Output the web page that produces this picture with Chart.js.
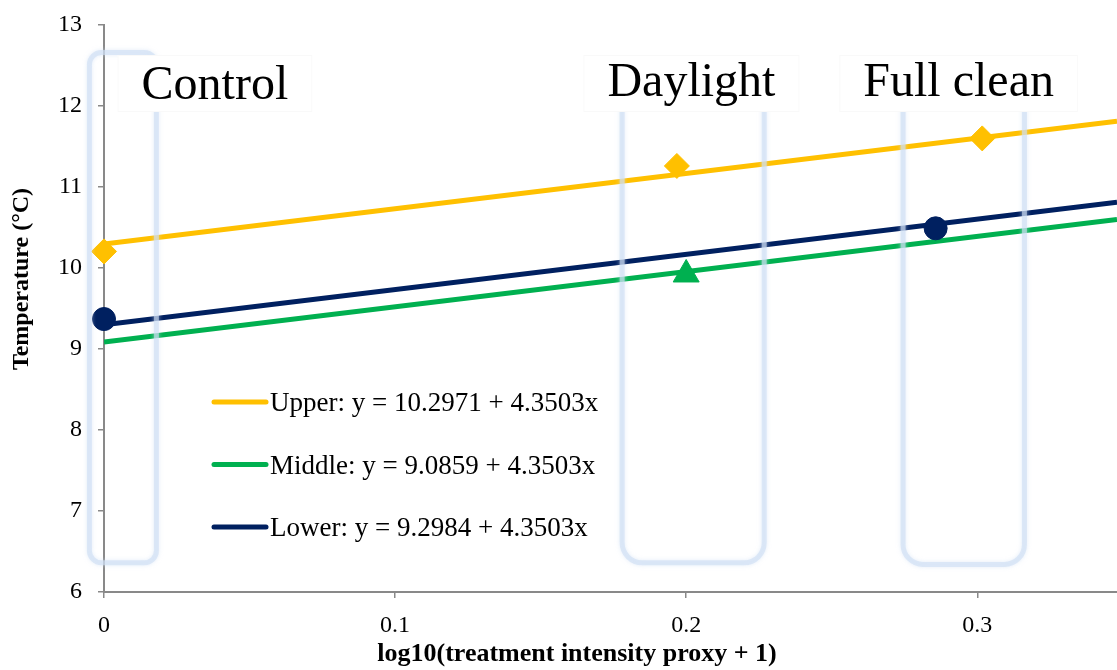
<!DOCTYPE html>
<html>
<head>
<meta charset="utf-8">
<script src="https://cdn.jsdelivr.net/npm/chart.js@4/dist/chart.umd.min.js"></script>
<style>
  html, body { margin: 0; padding: 0; background: #fff; overflow: hidden; }
  #wrap { width: 1117px; height: 670px; }
</style>
</head>
<body>
<div id="wrap"><canvas id="chart" width="1117" height="670"></canvas></div>
<script>
// fitted lines (shared slope)
const seriesNames = ['Upper', 'Middle', 'Lower'];
const intercepts = [10.2971, 9.0859, 9.2984];
const slope = 4.3503;

// observed points per series
const upperX = [0, 0.1968, 0.3017];
const upperY = [10.205, 11.26, 11.60];
const middleX = [0.2];
const middleY = [9.92];
const lowerX = [0, 0.2857];
const lowerY = [9.37, 10.49];

// treatment groups
const treatments = ['Control', 'Daylight', 'Full clean'];
const treatmentX = [0.0381, 0.2018, 0.2936];

const xTicks = [0, 0.1, 0.2, 0.3];
const xMax = 0.348;
const yMin = 6;
const yMax = 13;

// bracket outlines around each group: [left, right, bottom, top] in axis units
const bracketSpans = [
  [-0.005, 0.018, 6.36, 12.66],
  [0.178, 0.2268, 6.36, 12.3],
  [0.2745, 0.3162, 6.34, 12.3]
];
const bracketRadius = [12, 20, 20];

const colors = ['#FFC000', '#00B050', '#002060'];
const serif = '"Liberation Serif", "Times New Roman", serif';

const pts = (xs, ys) => xs.map((v, i) => ({ x: v, y: ys[i] }));
const fitLine = (b) => [{ x: 0, y: b }, { x: xMax, y: b + slope * xMax }];

const datasets = [
  { label: 'Upper points', data: pts(upperX, upperY), showLine: false, order: 0, clip: false,
    pointStyle: 'rectRot', pointRadius: 12.5, backgroundColor: colors[0], borderColor: colors[0], borderWidth: 1 },
  { label: 'Middle points', data: pts(middleX, middleY), showLine: false, order: 0, clip: false,
    pointStyle: 'triangle', pointRadius: 15, backgroundColor: colors[1], borderColor: colors[1], borderWidth: 1 },
  { label: 'Lower points', data: pts(lowerX, lowerY), showLine: false, order: 0, clip: false,
    pointStyle: 'circle', pointRadius: 11.5, backgroundColor: colors[2], borderColor: colors[2], borderWidth: 1 }
];
seriesNames.forEach((name, i) => {
  datasets.push({
    label: name + ': y = ' + intercepts[i].toFixed(4) + ' + ' + slope.toFixed(4) + 'x',
    data: fitLine(intercepts[i]), showLine: true, order: 1, isFit: true,
    borderColor: colors[i], borderWidth: 5, pointRadius: 0, fill: false
  });
});

function roundedBox(ctx, l, t, r, b, rad) {
  ctx.beginPath();
  ctx.moveTo(l + rad, t);
  ctx.lineTo(r - rad, t);
  ctx.arcTo(r, t, r, t + rad, rad);
  ctx.lineTo(r, b - rad);
  ctx.arcTo(r, b, r - rad, b, rad);
  ctx.lineTo(l + rad, b);
  ctx.arcTo(l, b, l, b - rad, rad);
  ctx.lineTo(l, t + rad);
  ctx.arcTo(l, t, l + rad, t, rad);
  ctx.closePath();
}

const overlay = {
  id: 'overlay',
  afterDatasetsDraw(chart) {
    const { ctx, scales: { x, y } } = chart;
    ctx.save();

    // pale bracket outlines over the lines
    ctx.strokeStyle = 'rgba(206, 223, 244, 0.62)';
    ctx.lineWidth = 5;
    ctx.shadowColor = 'rgba(206, 223, 244, 0.9)';
    ctx.shadowBlur = 4;
    bracketSpans.forEach((s, i) => {
      roundedBox(ctx, x.getPixelForValue(s[0]), y.getPixelForValue(s[3]),
        x.getPixelForValue(s[1]), y.getPixelForValue(s[2]), bracketRadius[i]);
      ctx.stroke();
    });
    ctx.shadowBlur = 0;
    ctx.shadowColor = 'transparent';

    // group labels on white boxes
    ctx.font = '48px ' + serif;
    ctx.textAlign = 'center';
    ctx.textBaseline = 'alphabetic';
    treatments.forEach((t, i) => {
      const cx = x.getPixelForValue(treatmentX[i]);
      const w = ctx.measureText(t).width + 48;
      ctx.fillStyle = '#fff';
      ctx.fillRect(cx - w / 2, 55, w, 57);
      ctx.strokeStyle = 'rgba(0,0,0,0.025)';
      ctx.lineWidth = 1;
      ctx.strokeRect(cx - w / 2 + 0.5, 55.5, w - 1, 56);
      ctx.fillStyle = '#000';
      ctx.fillText(t, cx, i === 0 ? 99 : 96);
    });

    // legend for the fitted lines
    const fits = chart.data.datasets.filter(d => d.isFit);
    const left = chart.chartArea.left;
    ctx.font = '27px ' + serif;
    ctx.textAlign = 'left';
    ctx.lineCap = 'round';
    fits.forEach((d, i) => {
      const ly = 402 + i * 62.5;
      ctx.strokeStyle = d.borderColor;
      ctx.lineWidth = 5;
      ctx.beginPath();
      ctx.moveTo(left + 110, ly);
      ctx.lineTo(left + 162, ly);
      ctx.stroke();
      ctx.fillStyle = '#000';
      ctx.fillText(d.label, left + 166, ly + 9);
    });
    ctx.restore();
  },
  afterDraw(chart) {
    const { ctx } = chart;
    ctx.save();
    ctx.fillStyle = '#000';
    ctx.textAlign = 'center';
    ctx.textBaseline = 'alphabetic';
    ctx.font = 'bold 26px ' + serif;
    ctx.fillText('log10(treatment intensity proxy + 1)', 577, 661);
    ctx.font = 'bold 24px ' + serif;
    ctx.translate(28, 279);
    ctx.rotate(-Math.PI / 2);
    ctx.fillText('Temperature (°C)', 0, 0);
    ctx.restore();
  }
};

new Chart(document.getElementById('chart').getContext('2d'), {
  type: 'scatter',
  data: { datasets },
  plugins: [overlay],
  options: {
    responsive: false,
    animation: false,
    devicePixelRatio: 1,
    layout: { autoPadding: false, padding: { top: 25, right: 0, left: 0, bottom: 0 } },
    plugins: { legend: { display: false }, tooltip: { enabled: false } },
    scales: {
      x: {
        type: 'linear',
        min: 0,
        max: xMax,
        afterFit: s => { s.height = 78; },
        afterBuildTicks: s => { s.ticks = xTicks.map(v => ({ value: v })); },
        ticks: {
          font: { family: serif, size: 24 },
          color: '#000',
          padding: 13,
          maxRotation: 0,
          callback: v => v === 0 ? '0' : v.toFixed(1)
        },
        grid: { display: true, drawOnChartArea: false, drawTicks: true, tickLength: 6, color: '#898989', lineWidth: 1.5 },
        border: { display: true, color: '#898989', width: 2 }
      },
      y: {
        type: 'linear',
        min: yMin,
        max: yMax,
        afterFit: s => { s.width = 104; },
        ticks: {
          stepSize: 1,
          font: { family: serif, size: 24, lineHeight: 0.6 },
          color: '#000',
          padding: 16
        },
        grid: { display: true, drawOnChartArea: false, drawTicks: true, tickLength: 6, color: '#898989', lineWidth: 1.5 },
        border: { display: true, color: '#898989', width: 2 }
      }
    }
  }
});
</script>
</body>
</html>
